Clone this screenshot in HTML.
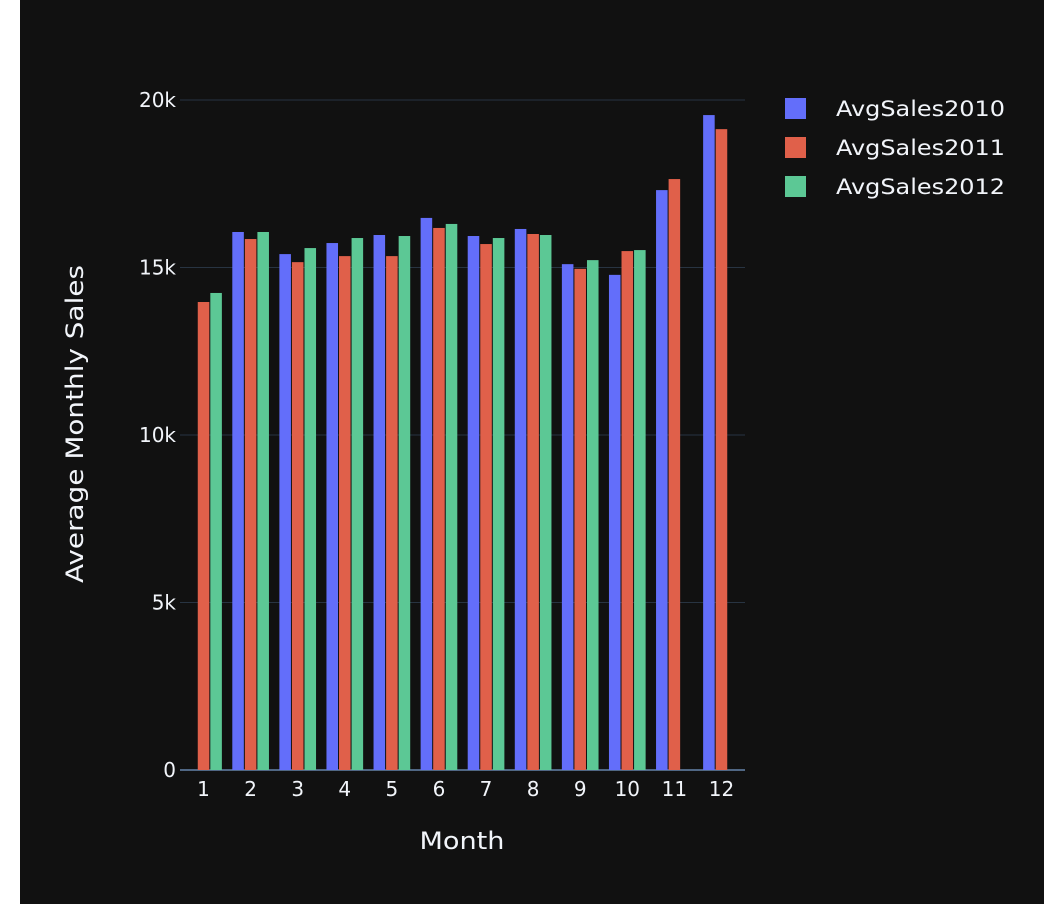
<!DOCTYPE html>
<html><head><meta charset="utf-8"><style>
html,body{margin:0;padding:0;background:#fff;}
svg{display:block;font-family:"DejaVu Sans","Liberation Sans",sans-serif;}
</style></head><body>
<svg id="chart" width="1044" height="904" xmlns="http://www.w3.org/2000/svg">
<rect x="20" y="0" width="1024" height="904" fill="#111111"/>
<g id="grid"></g>
<g id="bars"></g>
<g id="xt"></g>
<g id="yt"></g>
<text x="462" y="849" fill="#f2f5fa" font-size="24" text-anchor="middle" textLength="85" lengthAdjust="spacingAndGlyphs">Month</text>
<text transform="translate(83,424) rotate(-90)" fill="#f2f5fa" font-size="24" text-anchor="middle" textLength="318" lengthAdjust="spacingAndGlyphs">Average Monthly Sales</text>
<g id="legend"></g>
</svg>
<script>
const categories=[1,2,3,4,5,6,7,8,9,10,11,12];
const sales2010=[null,16.06,15.40,15.73,15.97,16.48,15.94,16.15,15.10,14.78,17.31,19.55];
const sales2011=[13.97,15.85,15.16,15.34,15.34,16.18,15.70,16.00,14.96,15.49,17.64,19.13];
const sales2012=[14.24,16.06,15.58,15.88,15.94,16.30,15.88,15.97,15.22,15.52,null,null];
const yTicks=[0,5,10,15,20];
const yTickLabels=["0","5k","10k","15k","20k"];
const seriesNames=["AvgSales2010","AvgSales2011","AvgSales2012"];
const colors=["#636efa","#e0604a","#5cc895"];
const NS="http://www.w3.org/2000/svg";
const X0=180,X1=745,Y0=770,Y1=100,YMAX=20;
const band=(X1-X0)/categories.length;
const xc=i=>X0+band*(i+0.5);
const y=v=>Y0-(v/YMAX)*(Y0-Y1);
function mk(t,a,p){const e=document.createElementNS(NS,t);for(const k in a)e.setAttribute(k,a[k]);p.appendChild(e);return e;}
const grid=document.getElementById('grid'),yt=document.getElementById('yt');
yTicks.forEach((v,i)=>{
 const l=mk('line',{x1:X0,x2:X1,y1:y(v),y2:y(v),stroke:i==0?'#506784':'#283442','stroke-width':i==0?2:1},grid);
 
 
 const t=mk('text',{x:176,y:y(v)+7,fill:'#f2f5fa','font-size':20,'text-anchor':'end'},yt);
 t.textContent=yTickLabels[i];
 
 
});
const xt=document.getElementById('xt');
categories.forEach((c,i)=>{
 const t=mk('text',{x:xc(i),y:796,fill:'#f2f5fa','font-size':20,'text-anchor':'middle'},xt);
 t.textContent=c;
 
 
});
const bars=document.getElementById('bars');
const all=[sales2010,sales2011,sales2012];
const bw=band*0.8/3;
all.forEach((s,k)=>{
 s.forEach((v,i)=>{
  if(v==null)return;
  const x=xc(i)-band*0.4+k*bw;
  const r=mk('rect',{x:x+0.5,y:y(v),width:bw-1,height:Y0-y(v),fill:colors[k]},bars);
  
  
 });
});
const lg=document.getElementById('legend');
seriesNames.forEach((n,k)=>{
 const g=mk('g',{},lg);
 
 
 mk('rect',{x:785,y:98+k*39,width:21,height:21,fill:colors[k]},g);
 const t=mk('text',{x:836,y:116+k*39,fill:'#f2f5fa','font-size':21,textLength:169,lengthAdjust:'spacingAndGlyphs'},g);
 t.textContent=n;
});
</script>
</body></html>
